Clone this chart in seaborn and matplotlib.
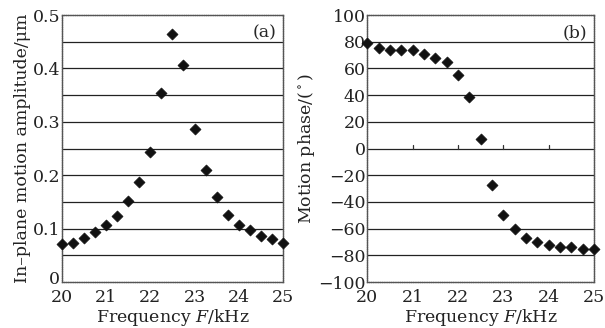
import matplotlib
matplotlib.use("Agg")
import matplotlib.pyplot as plt
import matplotlib.transforms as mtransforms
import seaborn as sns
import numpy as np

freq_khz = [20.0, 20.25, 20.5, 20.75, 21.0, 21.25, 21.5, 21.75, 22.0, 22.25, 22.5,
            22.75, 23.0, 23.25, 23.5, 23.75, 24.0, 24.25, 24.5, 24.75, 25.0]
amplitude_um = [0.071, 0.073, 0.083, 0.094, 0.106, 0.123, 0.151, 0.188, 0.244, 0.355, 0.464,
                0.407, 0.287, 0.209, 0.160, 0.126, 0.107, 0.098, 0.086, 0.081, 0.073]
phase_deg = [79, 75, 74, 74, 74, 71, 68, 65, 55, 39, 7,
             -27, -50, -60, -67, -70, -72, -74, -74, -75, -75]

sns.set_theme(style="white")
plt.rcParams['font.family'] = ['DejaVu Serif']
plt.rcParams['mathtext.fontset'] = 'dejavuserif'

FS = 12.5
fig = plt.figure(figsize=(6.05, 3.28), dpi=100)
ax1 = fig.add_axes([0.102, 0.14, 0.366, 0.814])
ax2 = fig.add_axes([0.607, 0.14, 0.375, 0.814])

def style(ax, ylim, grid_vals, yticks):
    ax.set_xlim(20, 25)
    ax.set_ylim(*ylim)
    for g in grid_vals:
        ax.axhline(g, color='#222222', lw=0.9, zorder=1)
    ax.set_xticks([20, 21, 22, 23, 24, 25])
    ax.set_yticks(yticks)
    ax.tick_params(axis='y', labelsize=FS, length=0, pad=1, colors='#222222')
    ax.tick_params(axis='x', labelsize=FS, length=0, pad=5, colors='#222222')
    for s in ax.spines.values():
        s.set_color('#555555')
        s.set_linewidth(1.0)
        s.set_linestyle((0, (1, 0.6)))
    ax.set_xlabel("Frequency $F$/kHz", fontsize=FS, labelpad=0.5, color='#222222')

sns.scatterplot(x=freq_khz, y=amplitude_um, ax=ax1, marker='D', s=32,
                color='#111111', edgecolor='#111111', zorder=3, clip_on=False)
style(ax1, (0, 0.5), np.arange(0.05, 0.5, 0.05), [0, 0.1, 0.2, 0.3, 0.4, 0.5])
ax1.set_yticklabels(['0', '0.1', '0.2', '0.3', '0.4', '0.5'])
ax1.set_ylabel("In\u2013plane motion amplitude/\u03bcm", fontsize=FS, labelpad=1, color='#222222')
ax1.text(0.97, 0.965, "(a)", transform=ax1.transAxes, ha='right', va='top', fontsize=FS)

# nudge the bottom "0" label up a touch so it clears the "20"
lbl0 = ax1.get_yticklabels()[0]
lbl0.set_transform(lbl0.get_transform() + mtransforms.ScaledTranslation(0, 3 / 72, fig.dpi_scale_trans))

sns.scatterplot(x=freq_khz, y=phase_deg, ax=ax2, marker='D', s=32,
                color='#111111', edgecolor='#111111', zorder=3, clip_on=False)
style(ax2, (-100, 100), np.arange(-80, 100, 20), np.arange(-100, 101, 20))
ax2.set_ylabel("Motion phase/($^\\circ$)", fontsize=FS, labelpad=1, color='#222222')
ax2.text(0.97, 0.965, "(b)", transform=ax2.transAxes, ha='right', va='top', fontsize=FS)
for xv in [21, 22, 23, 24]:
    ax2.plot([xv, xv], [0, 2.5], color='#333333', lw=0.9, zorder=2)

fig.savefig("out.png", dpi=100)
